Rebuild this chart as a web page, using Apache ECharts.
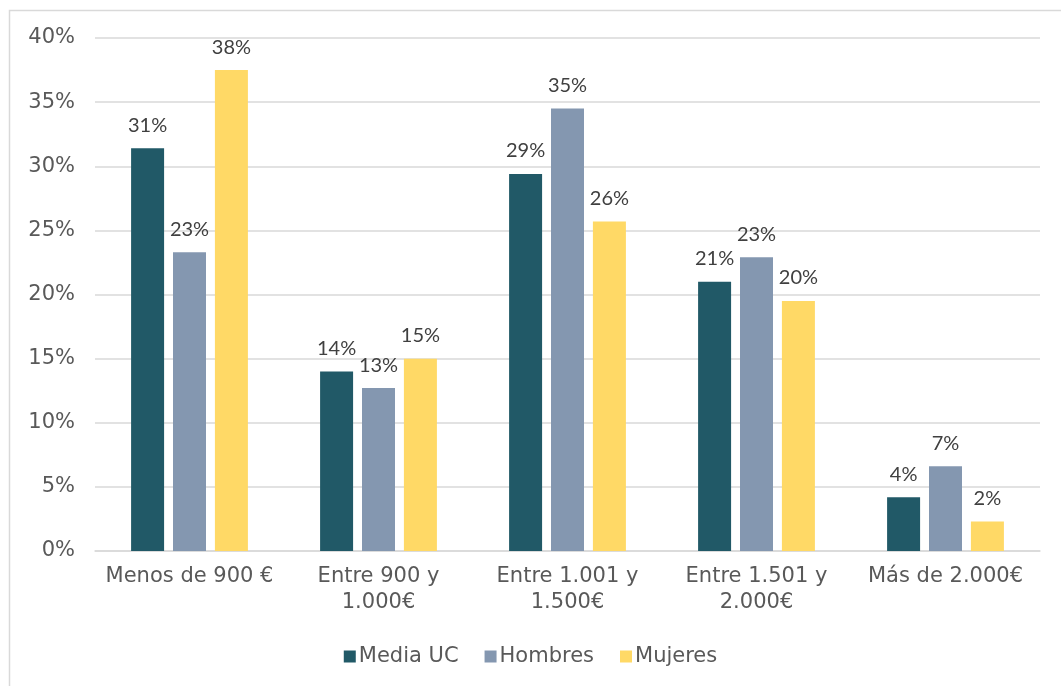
<!DOCTYPE html>
<html>
<head>
<meta charset="utf-8">
<script src="https://cdn.jsdelivr.net/npm/echarts@6/dist/echarts.min.js"></script>
<style>
  html, body { margin: 0; padding: 0; background: #fff; }
  #chart { width: 1061px; height: 686px; }
</style>
</head>
<body>
<div id="chart"></div>
<script>
  // tramos de ingresos
  var categories = ['Menos de 900 €', 'Entre 900 y\n1.000€', 'Entre 1.001 y\n1.500€', 'Entre 1.501 y\n2.000€', 'Más de 2.000€'];
  var seriesNames = ['Media UC', 'Hombres', 'Mujeres'];
  var mediaUC = [31.4, 14.0, 29.4, 21.0, 4.2];
  var hombres = [23.3, 12.7, 34.5, 22.9, 6.6];
  var mujeres = [37.5, 15.0, 25.7, 19.5, 2.3];
  var yTicks = [0, 5, 10, 15, 20, 25, 30, 35, 40];

  var colors = ['#215967', '#8497b0', '#ffd966'];

  function barSeries(name, data) {
    return {
      name: name,
      type: 'bar',
      data: data,
      barWidth: 33,
      barGap: '27%',
      label: {
        show: true,
        position: 'top',
        distance: 13,
        fontFamily: 'Lato',
        fontSize: 20,
        color: '#404040',
        formatter: function (p) { return Math.round(p.value) + '%'; }
      }
    };
  }

  var chart = echarts.init(document.getElementById('chart'));
  chart.setOption({
    animation: false,
    color: colors,
    graphic: [{
      type: 'rect',
      left: 7, top: 8,
      shape: { width: 1100, height: 700 },
      style: { fill: 'none', stroke: '#d9d9d9', lineWidth: 1.5 },
      silent: true
    }],
    grid: { left: 95, right: 21, top: 38, bottom: 135 },
    legend: {
      data: seriesNames,
      bottom: 14,
      left: 'center',
      icon: 'rect',
      itemWidth: 12,
      itemHeight: 12,
      itemGap: 26,
      textStyle: { fontFamily: 'DejaVu Sans', fontSize: 21, color: '#595959', padding: [0, 0, 0, -2] }
    },
    xAxis: {
      type: 'category',
      data: categories,
      axisLine: { lineStyle: { color: '#d9d9d9', width: 1.5 } },
      axisTick: { show: false },
      axisLabel: {
        margin: 13,
        interval: 0,
        fontFamily: 'DejaVu Sans',
        fontSize: 21,
        lineHeight: 26,
        color: '#595959'
      }
    },
    yAxis: {
      type: 'value',
      min: yTicks[0],
      max: yTicks[yTicks.length - 1],
      interval: 5,
      axisLine: { show: false },
      axisTick: { show: false },
      splitLine: { lineStyle: { color: '#d9d9d9', width: 1.5 } },
      axisLabel: {
        margin: 20,
        fontFamily: 'DejaVu Sans',
        fontSize: 21,
        color: '#595959',
        formatter: '{value}%'
      }
    },
    series: [
      barSeries(seriesNames[0], mediaUC),
      barSeries(seriesNames[1], hombres),
      barSeries(seriesNames[2], mujeres)
    ]
  });
</script>
</body>
</html>
